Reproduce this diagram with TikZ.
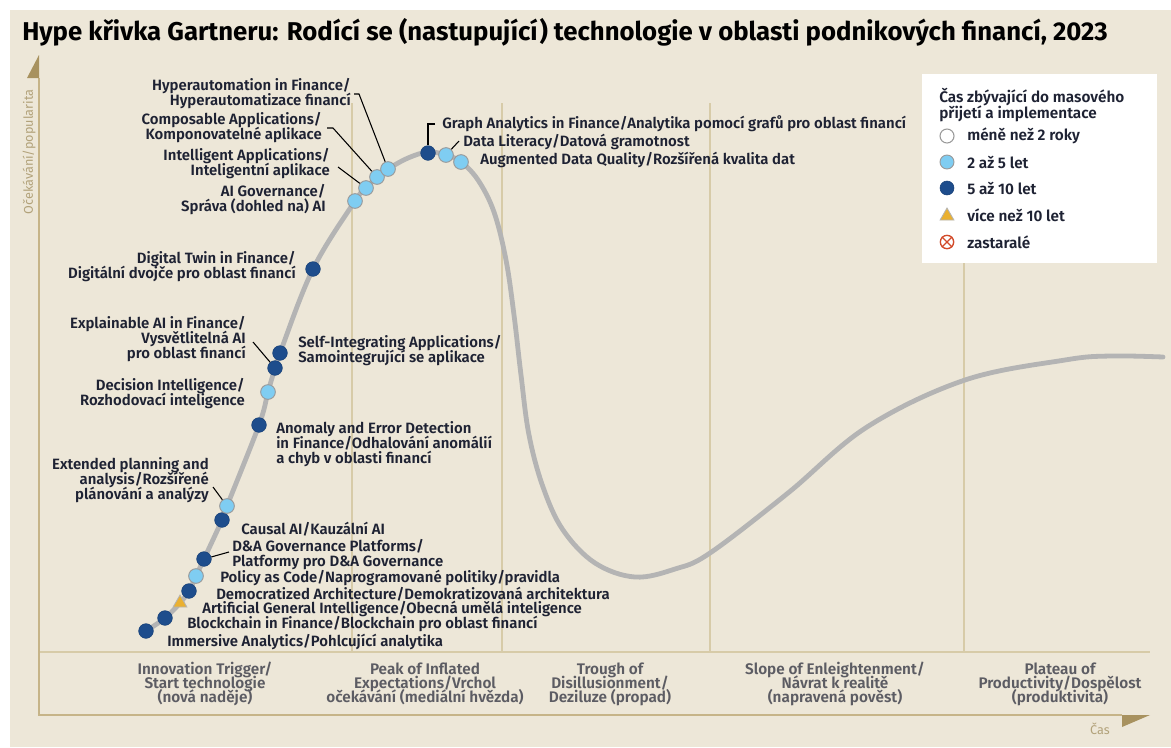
\documentclass[tikz,border=0pt]{standalone}
\usepackage{fontspec}
\setmainfont{Fira Sans}[BoldFont={Fira Sans SemiBold}]
\newfontfamily\titlefont{Fira Sans Bold}
\usetikzlibrary{shapes.geometric,calc}
\definecolor{hcbeige}{HTML}{EDE7D8}
\definecolor{hctan}{HTML}{C6B488}
\definecolor{hctandark}{HTML}{A8925F}
\definecolor{hcgrid}{HTML}{D7CBA8}
\definecolor{hccurve}{HTML}{B4B4B4}
\definecolor{hclight}{HTML}{7FCDF2}
\definecolor{hcdark}{HTML}{1E4D8C}
\definecolor{hcorange}{HTML}{EAB030}
\definecolor{hcred}{HTML}{D24A2A}
\definecolor{hctext}{HTML}{1E2233}
\definecolor{hcphase}{HTML}{5C5C63}
\newcommand\tightlines{\lineskiplimit-20pt\relax}

\tikzset{
  lightdot/.style={circle,inner sep=0pt,minimum size=11pt,fill=hclight,draw=hccurve!85!black,line width=0.7pt},
  darkdot/.style={circle,inner sep=0pt,minimum size=11pt,fill=hcdark,draw=hcdark!85!black,line width=0.4pt},
  agedot/.style={regular polygon,regular polygon sides=3,inner sep=0pt,minimum size=12pt,fill=hcorange,draw=hccurve,line width=0.6pt},
  lbl/.style={font=\fontsize{11.2}{11.2}\selectfont\bfseries\tightlines,text=hctext,inner sep=0pt},
  lblr/.style={lbl,anchor=east,align=right},
  lbll/.style={lbl,anchor=west,align=left},
  keytxt/.style={lbll,font=\fontsize{11.5}{12}\selectfont\bfseries\tightlines},
  lead/.style={draw=black,line width=0.8pt},
  phase/.style={font=\fontsize{11.5}{10.5}\selectfont\bfseries\tightlines,text=hcphase,align=center,inner sep=0pt},
}

\begin{document}
\begin{tikzpicture}[x=0.75pt,y=-0.75pt]

  \useasboundingbox (0,0) rectangle (1171,747);
  \fill[hcbeige] (10,10) rectangle (1171,747);

  % ---- Title --------------------------------------------------
  \node[anchor=west,inner sep=0pt,font=\fontsize{19.3}{21}\titlefont] (title) at (22,32)
    {Hype křivka Gartneru: Rodící se (nastupující) technologie v oblasti podnikových financí, 2023};

  % ---- Phase dividers and axes --------------------------------
  \foreach \x in {352,502,710,964}
    \draw[hcgrid,line width=1.2pt] (\x,103) -- (\x,652);
  \draw[hcgrid,line width=1.4pt] (39,652) -- (1150,652);
  \draw[hctan,line width=1.8pt] (39,78) -- (39,715) -- (1122,715);
  % arrow heads
  \fill[hctandark] (27,78) -- (39,55) -- (39,78) -- cycle;
  \fill[hctandark] (1122,715) -- (1150,715) -- (1122,727) -- cycle;
  \node[rotate=90,font=\fontsize{9.5}{9}\selectfont,text=hctan!90!black] (ylab) at (29,152) {Očekávání/popularita};
  \node[font=\fontsize{9.5}{9}\selectfont,text=hctan!90!black] (xlab) at (1100,729) {Čas};

  % ---- Hype curve ---------------------------------------------
  \draw[hccurve,line width=3.6pt,line cap=round] plot[smooth,tension=0.6] coordinates {
    (146,631) (165,618) (180,603) (189,591) (196,576) (204,559) (222,520) (227,506)
    (259,425) (268,392) (275,368) (280,353) (313,269) (355,201) (366,188) (377,177)
    (388,169) (408,158) (428,152) (446,155) (461,162) (478,180) (494,212) (506,260)
    (514,315) (521,375) (529,435) (543,487) (563,530) (595,563) (635,577) (675,569)
    (710,553) (788,493) (867,427) (965,380) (1065,360) (1110,356) (1163,357)};

  % ---- Technologies on the rise -------------------------------
  \node[darkdot]  (dImm)   at (146,631) {};
  \node[darkdot]  (dBlock) at (165,618) {};
  \node[agedot]   (dAgi)   at (180,603) {};
  \node[darkdot]  (dDemo)  at (189,591) {};
  \node[lightdot] (dPol)   at (196,576) {};
  \node[darkdot]  (dDna)   at (204,559) {};
  \node[darkdot]  (dCaus)  at (222,520) {};
  \node[lightdot] (dExt)   at (227,506) {};
  \node[darkdot]  (dAnom)  at (259,425) {};
  \node[lightdot] (dDec)   at (268,392) {};
  \node[darkdot]  (dExpl)  at (275,368) {};
  \node[darkdot]  (dSelf)  at (280,353) {};
  \node[darkdot]  (dTwin)  at (313,269) {};
  \node[lightdot] (dAigov) at (355,201) {};
  \node[lightdot] (dIntel) at (366,188) {};
  \node[lightdot] (dComp)  at (377,177) {};
  \node[lightdot] (dHyper) at (388,169) {};
  \node[darkdot]  (dGraph) at (428,153) {};
  \node[lightdot] (dLit)   at (446,155) {};
  \node[lightdot] (dAug)   at (461,162) {};

  % labels
  \node[lbll] (lImm)   at (167,642) {Immersive Analytics/Pohlcující analytika};
  \node[lbll] (lBlock) at (187,624) {Blockchain in Finance/Blockchain pro oblast financí};
  \node[lbll] (lAgi)   at (202,609) {Artificial General Intelligence/Obecná umělá inteligence};
  \node[lbll] (lDemo)  at (216,594) {Democratized Architecture/Demokratizovaná architektura};
  \node[lbll] (lPol)   at (220,578) {Policy as Code/Naprogramované politiky/pravidla};
  \node[lbll] (lDna)   at (232,555) {D\&A Governance Platforms/\\Platformy pro D\&A Governance};
  \node[lbll] (lCaus)  at (241,529) {Causal AI/Kauzální AI};
  \node[lblr] (lExt)   at (209,480) {Extended planning and\\analysis/Rozšířené\\plánování a analýzy};
  \node[lbll] (lAnom)  at (276,444) {Anomaly and Error Detection\\in Finance/Odhalování anomálií\\a chyb v oblasti financí};
  \node[lblr] (lDec)   at (245,394) {Decision Intelligence/\\Rozhodovací inteligence};
  \node[lblr] (lExpl)  at (246,339) {Explainable AI in Finance/\\Vysvětlitelná AI\\pro oblast financí};
  \node[lbll] (lSelf)  at (298,351) {Self-Integrating Applications/\\Samointegrující se aplikace};
  \node[lblr] (lTwin)  at (296,267) {Digital Twin in Finance/\\Digitální dvojče pro oblast financí};
  \node[lblr] (lAigov) at (326,200) {AI Governance/\\Správa (dohled na) AI};
  \node[lblr] (lIntel) at (330,164) {Intelligent Applications/\\Inteligentní aplikace};
  \node[lblr] (lComp)  at (322,128) {Composable Applications/\\Komponovatelné aplikace};
  \node[lblr] (lHyper) at (351,94)  {Hyperautomation in Finance/\\Hyperautomatizace financí};
  \node[lbll] (lGraph) at (442,124) {Graph Analytics in Finance/Analytika pomocí grafů pro oblast financí};
  \node[lbll] (lLit)   at (463,142) {Data Literacy/Datová gramotnost};
  \node[lbll] (lAug)   at (480,160) {Augmented Data Quality/Rozšířená kvalita dat};

  % leader lines
  \coordinate (cHyper) at (354,94);
  \coordinate (cComp)  at (327,128);
  \coordinate (cIntel) at (338,167);
  \coordinate (cExpl)  at (253,342);
  \coordinate (cExt)   at (213,487);
  \coordinate (cDna)   at (229,552);
  \coordinate (cGraph) at (435,124);
  \coordinate (cLit)   at (459,141);
  \draw[lead] (cHyper) -- ++(5,0) -- (dHyper);
  \draw[lead] (cComp) -- ++(6,0) -- (dComp);
  \draw[lead] (cIntel) -- (dIntel);
  \draw[lead] (cExpl) -- (dExpl);
  \draw[lead] (cExt) -- (dExt);
  \draw[lead] (dDna) -- (cDna);
  \draw[lead] (cGraph) -| (dGraph);
  \draw[lead] (dLit) -- (cLit);

  % ---- Phase names --------------------------------------------
  \node[phase] (pTrig)  at (205,684)  {Innovation Trigger/\\Start technologie\\(nová naděje)};
  \node[phase] (pPeak)  at (425,684)  {Peak of Inflated\\Expectations/Vrchol\\očekávání (mediální hvězda)};
  \node[phase] (pTrgh)  at (610,684)  {Trough of\\Disillusionment/\\Deziluze (propad)};
  \node[phase] (pSlope) at (835,684)  {Slope of Enleightenment/\\Návrat k realitě\\(napravená pověst)};
  \node[phase] (pPlat)  at (1060,684) {Plateau of\\Productivity/Dospělost\\(produktivita)};

  % ---- Legend -------------------------------------------------
  \fill[white] (922,74) rectangle (1157,263);
  \node[keytxt] (lgTitle) at (939,105) {Čas zbývající do masového\\přijetí a implementace};
  \node[circle,inner sep=0pt,minimum size=10.5pt,fill=white,draw=gray!80,line width=0.8pt] (lgNew) at (947,136) {};
  \node[lightdot,minimum size=10.5pt] (lgMid) at (947,162) {};
  \node[darkdot,minimum size=10.5pt] (lgLong) at (947,188) {};
  \node[agedot,minimum size=12pt] (lgOld) at (947,216) {};
  \node[circle,inner sep=0pt,minimum size=10pt,draw=hcred,line width=1pt] (lgObs) at (947,242) {};
  \draw[hcred,line width=1pt] (lgObs.north west) -- (lgObs.south east)
    (lgObs.north east) -- (lgObs.south west);
  \node[keytxt] (lgNewTxt)  at (967,136) {méně než 2 roky};
  \node[keytxt] (lgMidTxt)  at (967,162) {2 až 5 let};
  \node[keytxt] (lgLongTxt) at (967,188) {5 až 10 let};
  \node[keytxt] (lgOldTxt)  at (967,215) {více než 10 let};
  \node[keytxt] (lgObsTxt)  at (967,242) {zastaralé};

\end{tikzpicture}
\end{document}
